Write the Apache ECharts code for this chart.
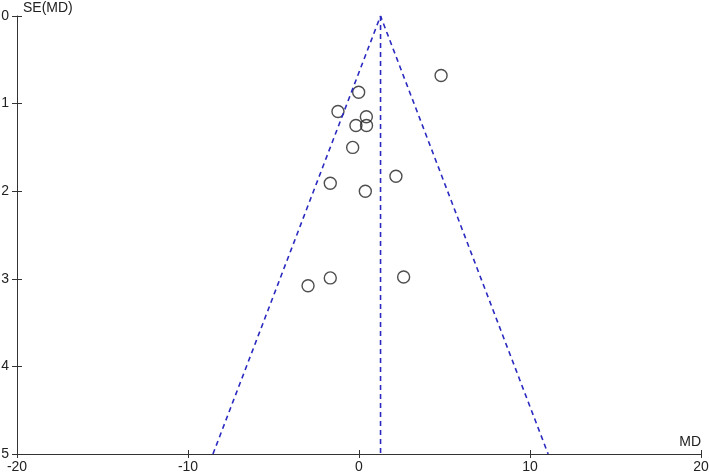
<!DOCTYPE html>
<html>
<head>
<meta charset="utf-8">
<script src="https://cdn.jsdelivr.net/npm/echarts@6/dist/echarts.min.js"></script>
<style>
  html, body { margin: 0; padding: 0; background: #fff; }
  #chart { width: 709px; height: 473px; }
</style>
</head>
<body>
<div id="chart"></div>
<script>
// study effects (MD) and standard errors SE(MD)
var md = [4.80, -0.02, -1.23, 0.43, -0.18, 0.44, -0.37, -1.68, 2.16, 0.37, -1.68, -2.98, 2.61]
var se = [0.68, 0.87, 1.09, 1.15, 1.25, 1.25, 1.50, 1.91, 1.83, 2.00, 2.99, 3.08, 2.98]
var pooledMD = 1.26
var seMax = 5
var xTicks = [-20, -10, 0, 10, 20]

var points = []
for (var i = 0; i < md.length; i++) {
  points.push([md[i], se[i]])
}
// pseudo 95% confidence limits
var funnel = [
  [pooledMD - 1.96 * seMax, seMax],
  [pooledMD, 0],
  [pooledMD + 1.96 * seMax, seMax]
]
var centre = [[pooledMD, 0], [pooledMD, seMax]]

var chart = echarts.init(document.getElementById('chart'))
var axisColor = '#333'
var font = 'Liberation Sans, Arial, sans-serif'
var dashStyle = { color: '#2a2ac0', width: 1.6, type: [5, 4] }

var option = {
  animation: false,
  grid: { left: 17, right: 8, top: 16, bottom: 19, outerBoundsMode: 'none', containLabel: false },
  xAxis: [
    {
      type: 'value',
      min: -20, max: 20, interval: 10,
      name: 'MD',
      nameLocation: 'end',
      nameGap: 0,
      nameTextStyle: { color: '#222', fontSize: 14, fontFamily: font, align: 'right', verticalAlign: 'bottom', padding: [0, 0, 5, 0] },
      axisLine: { onZero: false, lineStyle: { color: axisColor, width: 1 } },
      axisTick: { length: 4, lineStyle: { color: axisColor } },
      axisLabel: {
        color: '#222', fontSize: 14, fontFamily: font, margin: 6,
        formatter: function (v) { return xTicks.indexOf(v) > -1 ? String(v) : '' }
      },
      splitLine: { show: false }
    },
    {
      type: 'value', position: 'bottom',
      min: -20, max: 20, interval: 10,
      axisLine: { show: false, onZero: false },
      axisTick: { inside: true, length: 4, lineStyle: { color: axisColor } },
      axisLabel: { show: false },
      splitLine: { show: false }
    }
  ],
  yAxis: [
    {
      type: 'value',
      inverse: true,
      min: 0, max: seMax, interval: 1,
      name: 'SE(MD)',
      nameLocation: 'start',
      nameGap: 1,
      nameTextStyle: { color: '#222', fontSize: 14, fontFamily: font, align: 'left', verticalAlign: 'bottom', padding: [0, 0, 0, 6] },
      axisLine: { onZero: false, lineStyle: { color: axisColor, width: 1 } },
      axisTick: { length: 5, lineStyle: { color: axisColor } },
      axisLabel: { color: '#222', fontSize: 14, fontFamily: font, margin: 8 },
      splitLine: { show: false }
    },
    {
      type: 'value', position: 'left',
      inverse: true,
      min: 0, max: seMax, interval: 1,
      axisLine: { show: false, onZero: false },
      axisTick: { inside: true, length: 5, lineStyle: { color: axisColor } },
      axisLabel: { show: false },
      splitLine: { show: false }
    }
  ],
  series: [
    {
      type: 'line',
      data: funnel,
      symbol: 'none',
      silent: true,
      lineStyle: dashStyle
    },
    {
      type: 'line',
      data: centre,
      symbol: 'none',
      silent: true,
      lineStyle: dashStyle
    },
    {
      type: 'scatter',
      data: points,
      symbol: 'circle',
      symbolSize: 12,
      itemStyle: { color: 'rgba(255,255,255,0)', borderColor: '#222', borderWidth: 1.4 }
    }
  ]
}
chart.setOption(option)
</script>
</body>
</html>
